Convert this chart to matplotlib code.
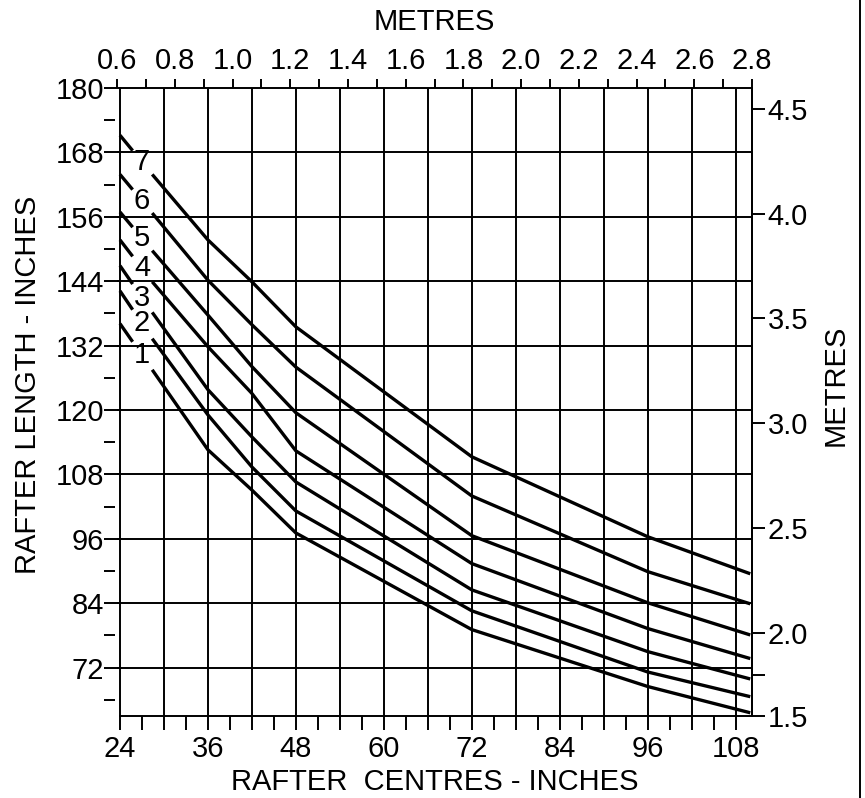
import numpy as np
import matplotlib
matplotlib.use("Agg")
import matplotlib.pyplot as plt
from matplotlib.lines import Line2D

plt.rcParams["font.family"] = ["Liberation Sans", "DejaVu Sans"]

# rafter centres (inches) at which the curves were read
centres = [24, 28.4, 36, 42, 48, 72, 96, 110]

# rafter length (inches) for each curve
curve_1 = [136.1, 127.5, 112.6, 105.1, 97.1, 79.1, 68.5, 63.6]
curve_2 = [142.2, 133.3, 119.1, 109.4, 101.2, 82.6, 71.2, 66.6]
curve_3 = [146.9, 138.2, 123.8, 115.0, 106.6, 86.5, 75.0, 69.9]
curve_4 = [151.7, 143.9, 131.8, 123.1, 112.4, 91.4, 79.3, 73.7]
curve_5 = [156.9, 149.7, 137.7, 128.1, 119.5, 96.6, 84.1, 78.1]
curve_6 = [163.9, 156.7, 144.2, 135.9, 128.0, 104.0, 89.9, 83.9]
curve_7 = [171.2, 163.9, 151.7, 143.9, 135.5, 111.3, 96.4, 89.5]
curves = [curve_1, curve_2, curve_3, curve_4, curve_5, curve_6, curve_7]
curve_names = ["1", "2", "3", "4", "5", "6", "7"]

# axes ticks
inch_x_ticks = [24, 36, 48, 60, 72, 84, 96, 108]
inch_x_minor = [27, 30, 33, 39, 42, 45, 51, 54, 57, 63, 66, 69, 75, 78, 81,
                87, 90, 93, 99, 102, 105]
inch_x_grid = [30, 36, 42, 48, 54, 60, 66, 72, 78, 84, 90, 96, 102, 108]
inch_y_ticks = [72, 84, 96, 108, 120, 132, 144, 156, 168, 180]
inch_y_minor = [66, 78, 90, 102, 114, 126, 138, 150, 162, 174]
metre_top = [0.6, 0.8, 1.0, 1.2, 1.4, 1.6, 1.8, 2.0, 2.2, 2.4, 2.6, 2.8]
metre_top_minor = [0.7, 0.9, 1.1, 1.3, 1.5, 1.7, 1.9, 2.1, 2.3, 2.5, 2.7]
metre_right = [1.8, 2.0, 2.5, 3.0, 3.5, 4.0, 4.5]
metre_right_labels = ["", "2.0", "2.5", "3.0", "3.5", "4.0", "4.5"]

fs = 21
lw_grid = 1.4

fig = plt.figure(figsize=(8.65, 7.98), dpi=100)
ax = fig.add_axes([117.2 / 865, 82 / 798, 634.8 / 865, 628 / 798])

ax.set_xlim(metre_top[0] / 0.0254, metre_top[-1] / 0.0254)
ax.set_ylim(63, 180)

# spines
for s in ax.spines.values():
    s.set_linewidth(lw_grid)
ax.spines["left"].set_position(("data", 24))
ax.spines["bottom"].set_bounds(24, metre_top[-1] / 0.0254)
ax.spines["top"].set_bounds(24, metre_top[-1] / 0.0254)

# grid
for gx in inch_x_grid:
    ax.axvline(gx, color="black", lw=lw_grid, zorder=1)
for gy in inch_y_ticks[:-1]:
    ax.axhline(gy, color="black", lw=lw_grid, zorder=1)

# curves, broken where the number sits
gap_lo, gap_hi, label_x = 25.73, 28.4, 27.0
for vals, name in zip(curves, curve_names):
    xs = np.array(centres, dtype=float)
    ys = np.array(vals, dtype=float)
    ax.plot([xs[0], gap_lo], [ys[0], np.interp(gap_lo, xs, ys)],
            color="black", lw=2.4, solid_capstyle="butt", zorder=3)
    keep = xs >= gap_hi
    ax.plot(xs[keep], ys[keep], color="black", lw=2.4,
            solid_capstyle="butt", zorder=3)
    ax.text(label_x, np.interp(label_x, xs, ys), name, fontsize=fs,
            ha="center", va="center", zorder=4)

# bottom axis
ax.set_xticks(inch_x_ticks)
ax.set_xticks(inch_x_minor, minor=True)
ax.tick_params(axis="x", which="both", direction="out", length=10,
               width=lw_grid, labelsize=fs, pad=4)
ax.set_xlabel("RAFTER  CENTRES - INCHES", fontsize=fs, labelpad=3)

# left axis
ax.set_yticks(inch_y_ticks)
ax.tick_params(axis="y", which="major", direction="out", length=11.5,
               width=lw_grid, labelsize=fs, pad=0)
ax.set_ylabel("RAFTER LENGTH - INCHES", fontsize=fs)
ax.yaxis.set_label_coords(-0.118, 0.527)

# detached minor dashes on the left
dash_ax = ax.secondary_yaxis(-0.0035)
dash_ax.spines["left"].set_visible(False)
dash_ax.set_yticks(inch_y_minor)
dash_ax.set_yticklabels([])
dash_ax.tick_params(axis="y", direction="out", length=8, width=lw_grid)

# top axis in metres
top = ax.secondary_xaxis("top", functions=(lambda x: x * 0.0254,
                                            lambda m: m / 0.0254))
top.spines["top"].set_visible(False)
top.set_xticks(metre_top)
top.set_xticklabels([f"{m:.1f}" for m in metre_top])
top.set_xticks(metre_top_minor, minor=True)
top.tick_params(axis="x", which="both", direction="out", length=6.5,
                width=lw_grid, labelsize=fs, pad=3)
top.set_xlabel("METRES", fontsize=fs, labelpad=12)

# right axis in metres (printed scale sits slightly off the true conversion)
right = ax.twinx()
right.set_ylim((63 - 0.42) / 39.04, (180 - 0.42) / 39.04)
right.spines["right"].set_linewidth(lw_grid)
for side in ["left", "top", "bottom"]:
    right.spines[side].set_visible(False)
lo = right.get_ylim()[0]
right.set_yticks([lo] + metre_right)
right.set_yticklabels(["1.5"] + metre_right_labels)
right.tick_params(axis="y", direction="out", length=9.4, width=lw_grid,
                  labelsize=fs, pad=2)
right.set_ylabel("METRES", fontsize=fs, rotation=90)
right.yaxis.set_label_coords(1.11, 0.527)

# frame line at the right edge of the page
fig.add_artist(Line2D([860 / 865, 860 / 865], [0, 1], color="black",
                      lw=lw_grid, transform=fig.transFigure))

fig.savefig("out.png", dpi=100)
